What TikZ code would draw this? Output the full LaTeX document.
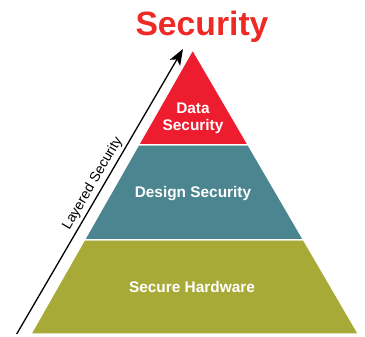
\documentclass[tikz,border=0pt]{standalone}
\usepackage{fontspec}
\setmainfont{Liberation Sans}
\usetikzlibrary{calc,arrows.meta}
\definecolor{titlered}{HTML}{EE2A26}
\definecolor{layerred}{HTML}{ED1C2E}
\definecolor{layerteal}{HTML}{4B8590}
\definecolor{layerolive}{HTML}{A8AA38}
\tikzset{
  layer/.style={draw=white, line width=1pt, line join=miter},
  lbl/.style={text=white, font=\bfseries\fontsize{15.4}{18}\selectfont, align=center, inner sep=0pt},
}
\begin{document}
\begin{tikzpicture}[x=1pt,y=-1pt]
\useasboundingbox (0,0) rectangle (365,337);
\coordinate (A) at (192.7,50);
\coordinate (BL) at (31,334);
\coordinate (BR) at (358.3,334);
\coordinate (L1) at ($(A)!0.3345!(BL)$);
\coordinate (R1) at ($(A)!0.3345!(BR)$);
\coordinate (L2) at ($(A)!0.669!(BL)$);
\coordinate (R2) at ($(A)!0.669!(BR)$);
\fill[layerolive, layer] (L2) -- (R2) -- (BR) -- (BL) -- cycle;
\fill[layerteal, layer] (L1) -- (R1) -- (R2) -- (L2) -- cycle;
\fill[layerred, layer] (A) -- (R1) -- (L1) -- cycle;
\path[layer] (L2) -- (R2) (L1) -- (R1);
\node[lbl, anchor=base] (data1) at (193,114) {Data};
\node[lbl, anchor=base] (data2) at (193,131) {Security};
\node[lbl, anchor=base] (design) at (193,198) {Design Security};
\node[lbl, anchor=base] (hw) at (192,292.5) {Secure Hardware};
\node[anchor=base, text=titlered, font=\bfseries\fontsize{33.7}{38}\selectfont, inner sep=0pt] (title) at (202,36) {Security};
\coordinate (s) at (16.7,334);
\coordinate (t) at (183,49);
\draw[line width=1.3pt, -{Stealth[length=16pt,width=12pt,inset=4pt]}] (s) -- (t)
  node[pos=0.51, sloped, above=3pt, font=\fontsize{14}{16}\selectfont, inner sep=0pt] (lay) {Layered Security};
\end{tikzpicture}
\end{document}
